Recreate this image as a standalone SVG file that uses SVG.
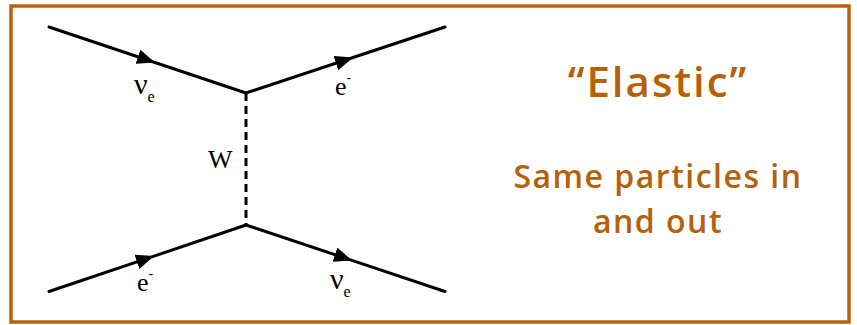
<svg xmlns="http://www.w3.org/2000/svg" width="857" height="325" viewBox="0 0 857 325">
  <style>
    .frame { fill: #ffffff; stroke: #B8620C; stroke-width: 3.5; }
    .fermion { fill: none; stroke: #000000; stroke-width: 3; stroke-linecap: round; stroke-linejoin: round; marker-mid: url(#arrow); }
    .boson { fill: none; stroke: #000000; stroke-width: 3; stroke-dasharray: 8 5; }
    .lbl { font-family: "Liberation Serif", "DejaVu Serif", serif; font-size: 26px; fill: #000000; }
    .nu { font-size: 30px; }
    .sub { font-size: 16px; }
    .sup { font-size: 14px; }
    .note { font-family: "Open Sans", "Noto Sans", sans-serif; font-weight: 600; fill: #B5610A; text-anchor: middle; }
  </style>
  <defs>
    <marker id="arrow" viewBox="0 0 18 15" refX="18" refY="7.5" markerWidth="18" markerHeight="15" markerUnits="userSpaceOnUse" orient="auto">
      <path d="M0,0 L18,7.5 L0,15 Z" fill="#000000"/>
    </marker>
  </defs>

  <rect class="frame" x="11" y="6" width="838" height="316"/>

  <g id="connectors">
    <path id="nu-in" class="fermion" d="M49,27 L155,62.5 L246,93"/>
    <path id="e-out" class="fermion" d="M246,93 L353,57.5 L445,27"/>
    <path id="e-in" class="fermion" d="M49,291.5 L154,256.1 L246,225"/>
    <path id="nu-out" class="fermion" d="M246,225 L352,260.4 L445,291.5"/>
    <line id="w-boson" class="boson" x1="246" y1="93" x2="246" y2="225"/>
  </g>

  <g id="label-nu-in">
    <text class="lbl" x="134" y="94"><tspan class="nu">ν</tspan><tspan class="sub" dy="8">e</tspan></text>
  </g>
  <g id="label-e-out">
    <text class="lbl" x="335" y="95">e<tspan class="sup" dy="-13">-</tspan></text>
  </g>
  <g id="label-w">
    <text class="lbl" x="208" y="168">W</text>
  </g>
  <g id="label-e-in">
    <text class="lbl" x="137" y="291">e<tspan class="sup" dy="-13">-</tspan></text>
  </g>
  <g id="label-nu-out">
    <text class="lbl" x="330" y="289"><tspan class="nu">ν</tspan><tspan class="sub" dy="8">e</tspan></text>
  </g>

  <g id="note">
    <text class="note" x="658" y="97" font-size="42" letter-spacing="2">“Elastic”</text>
    <text class="note" x="658" y="188" font-size="32" letter-spacing="1.5">Same particles in</text>
    <text class="note" x="658" y="233" font-size="32" letter-spacing="1.5">and out</text>
  </g>
</svg>
